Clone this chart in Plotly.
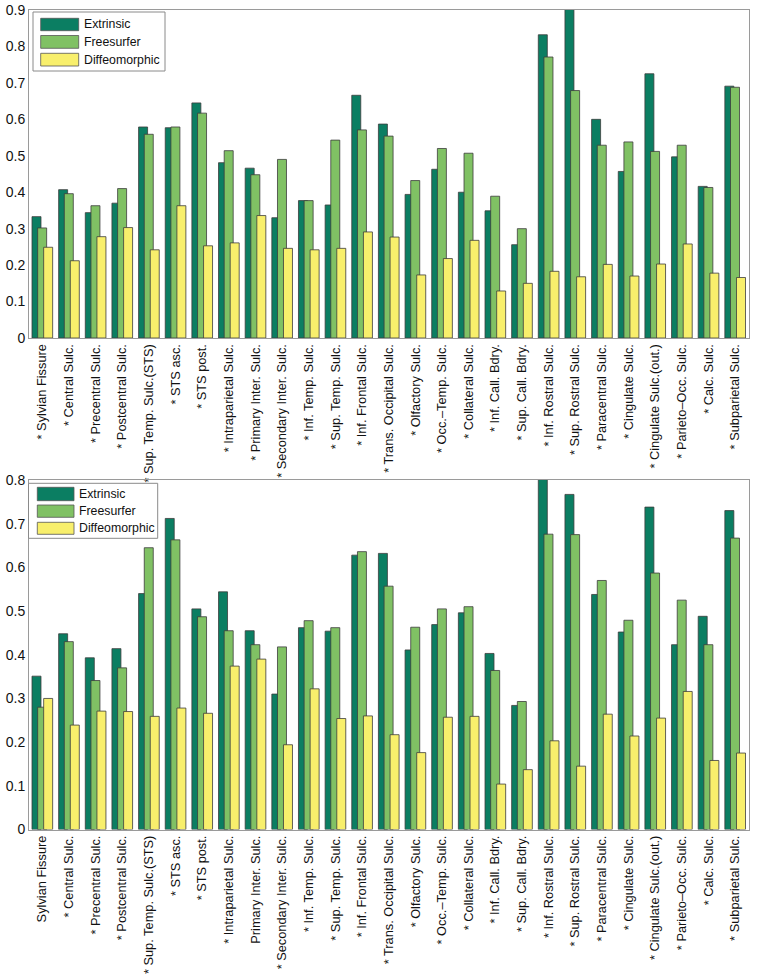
import plotly.graph_objects as go

W, H = 759, 976

labels_top = [
    "* Sylvian Fissure", "* Central Sulc.", "* Precentral Sulc.", "* Postcentral Sulc.",
    "* Sup. Temp. Sulc.(STS)", "* STS asc.", "* STS post.", "* Intraparietal Sulc.",
    "* Primary Inter. Sulc.", "* Secondary Inter. Sulc.", "* Inf. Temp. Sulc.",
    "* Sup. Temp. Sulc.", "* Inf. Frontal Sulc.", "* Trans. Occipital Sulc.",
    "* Olfactory Sulc.", "* Occ.\u2013Temp. Sulc.", "* Collateral Sulc.", "* Inf. Call. Bdry.",
    "* Sup. Call. Bdry.", "* Inf. Rostral Sulc.", "* Sup. Rostral Sulc.",
    "* Paracentral Sulc.", "* Cingulate Sulc.", "* Cingulate Sulc.(out.)",
    "* Parieto\u2013Occ. Sulc.", "* Calc. Sulc.", "* Subparietal Sulc.",
]
labels_bottom = [
    "Sylvian Fissure", "* Central Sulc.", "* Precentral Sulc.", "* Postcentral Sulc.",
    "* Sup. Temp. Sulc.(STS)", "* STS asc.", "* STS post.", "* Intraparietal Sulc.",
    "Primary Inter. Sulc.", "* Secondary Inter. Sulc.", "* Inf. Temp. Sulc.",
    "* Sup. Temp. Sulc.", "* Inf. Frontal Sulc.", "* Trans. Occipital Sulc.",
    "* Olfactory Sulc.", "* Occ.\u2013Temp. Sulc.", "* Collateral Sulc.", "* Inf. Call. Bdry.",
    "* Sup. Call. Bdry.", "* Inf. Rostral Sulc.", "* Sup. Rostral Sulc.",
    "* Paracentral Sulc.", "* Cingulate Sulc.", "* Cingulate Sulc.(out.)",
    "* Parieto\u2013Occ. Sulc.", "* Calc. Sulc.", "* Subparietal Sulc.",
]

series_names = ["Extrinsic", "Freesurfer", "Diffeomorphic"]

top_extrinsic = [0.333, 0.407, 0.344, 0.370, 0.579, 0.577, 0.645, 0.481, 0.466, 0.330,
                 0.377, 0.365, 0.666, 0.587, 0.394, 0.463, 0.400, 0.349, 0.256, 0.832,
                 0.910, 0.600, 0.457, 0.725, 0.497, 0.416, 0.691]
top_freesurfer = [0.302, 0.396, 0.363, 0.410, 0.559, 0.579, 0.617, 0.514, 0.448, 0.490,
                  0.377, 0.543, 0.571, 0.554, 0.432, 0.520, 0.507, 0.389, 0.300, 0.771,
                  0.679, 0.529, 0.538, 0.512, 0.529, 0.413, 0.688]
top_diffeo = [0.249, 0.212, 0.278, 0.303, 0.242, 0.363, 0.253, 0.261, 0.336, 0.246,
              0.242, 0.246, 0.291, 0.277, 0.173, 0.218, 0.268, 0.129, 0.150, 0.183,
              0.168, 0.202, 0.170, 0.203, 0.258, 0.178, 0.166]

bot_extrinsic = [0.351, 0.448, 0.393, 0.414, 0.540, 0.712, 0.505, 0.544, 0.455, 0.310,
                 0.462, 0.454, 0.628, 0.632, 0.411, 0.469, 0.496, 0.403, 0.284, 0.810,
                 0.767, 0.538, 0.452, 0.738, 0.423, 0.488, 0.730]
bot_freesurfer = [0.280, 0.430, 0.341, 0.370, 0.645, 0.663, 0.487, 0.455, 0.423, 0.418,
                  0.478, 0.462, 0.636, 0.557, 0.463, 0.505, 0.510, 0.364, 0.293, 0.676,
                  0.675, 0.570, 0.479, 0.587, 0.525, 0.423, 0.667]
bot_diffeo = [0.300, 0.239, 0.271, 0.270, 0.259, 0.278, 0.266, 0.374, 0.390, 0.194,
              0.322, 0.254, 0.260, 0.217, 0.176, 0.257, 0.259, 0.104, 0.137, 0.203,
              0.145, 0.264, 0.214, 0.255, 0.316, 0.158, 0.175]

yticks_top = [0, 0.1, 0.2, 0.3, 0.4, 0.5, 0.6, 0.7, 0.8, 0.9]
yticks_bot = [0, 0.1, 0.2, 0.3, 0.4, 0.5, 0.6, 0.7, 0.8]

colors = ["#0b7e62", "#80c164", "#f8ef6c"]
offsets = [-0.3875, -0.175, 0.05]
bar_w = 0.3375
FONT = "Liberation Sans, Arial, sans-serif"


def px_x(p):
    return p / W


def px_y(p):
    return 1 - p / H


fig = go.Figure()

top_series = [top_extrinsic, top_freesurfer, top_diffeo]
bot_series = [bot_extrinsic, bot_freesurfer, bot_diffeo]

for i in range(3):
    fig.add_trace(go.Bar(
        x=labels_top, y=top_series[i], name=series_names[i],
        marker=dict(color=colors[i], line=dict(color="#3c3c3c", width=0.8)),
        offset=offsets[i], width=bar_w, xaxis="x", yaxis="y", showlegend=False,
    ))
for i in range(3):
    fig.add_trace(go.Bar(
        x=labels_bottom, y=bot_series[i], name=series_names[i],
        marker=dict(color=colors[i], line=dict(color="#3c3c3c", width=0.8)),
        offset=offsets[i], width=bar_w, xaxis="x2", yaxis="y2", showlegend=False,
    ))

axis_common = dict(
    showline=True, mirror=True, linecolor="#9a9a9a", linewidth=1,
    showgrid=False, zeroline=False, ticks="", automargin=False,
)
xfont = dict(family=FONT, size=12.8, color="#111111")
yfont = dict(family=FONT, size=14, color="#111111")

xdom = [px_x(29), px_x(748.5)]
fig.update_layout(
    width=W, height=H,
    margin=dict(l=0, r=0, t=0, b=0),
    paper_bgcolor="white", plot_bgcolor="white",
    barmode="overlay",
    showlegend=False,
    xaxis=dict(domain=xdom, anchor="y", tickangle=-90, range=[-0.5, 26.5],
               tickfont=xfont, **axis_common),
    yaxis=dict(domain=[px_y(338), px_y(10)], anchor="x", range=[0, 0.9],
               tickvals=yticks_top, ticktext=[f"{v:g}" for v in yticks_top],
               tickfont=yfont, **axis_common),
    xaxis2=dict(domain=xdom, anchor="y2", tickangle=-90, range=[-0.5, 26.5],
                tickfont=xfont, **axis_common),
    yaxis2=dict(domain=[px_y(829.5), px_y(480)], anchor="x2", range=[0, 0.8],
                tickvals=yticks_bot, ticktext=[f"{v:g}" for v in yticks_bot],
                tickfont=yfont, **axis_common),
)


# Legends drawn as MATLAB-style boxes with wide swatches
def add_legend(box, sw_x0, sw_x1, sw_rows, text_x):
    x0, y0, x1, y1 = box
    fig.add_shape(type="rect", xref="paper", yref="paper",
                  x0=px_x(x0), x1=px_x(x1), y0=px_y(y1), y1=px_y(y0),
                  line=dict(color="#8a8a8a", width=1), fillcolor="white", layer="above")
    for i, (ra, rb) in enumerate(sw_rows):
        fig.add_shape(type="rect", xref="paper", yref="paper",
                      x0=px_x(sw_x0), x1=px_x(sw_x1), y0=px_y(rb), y1=px_y(ra),
                      line=dict(color="#555555", width=0.8), fillcolor=colors[i], layer="above")
        fig.add_annotation(xref="paper", yref="paper", x=px_x(text_x), y=px_y((ra + rb) / 2),
                           text=series_names[i], showarrow=False, xanchor="left", yanchor="middle",
                           font=dict(family=FONT, size=12.3, color="#111111"))


add_legend((33, 12, 165, 71), 40.7, 78.7,
           [(18.3, 30.7), (35.5, 48.3), (53.3, 66)], 81.5)
add_legend((28.5, 483.3, 157.7, 538.3), 37.3, 74,
           [(487.3, 500.7), (505, 517.3), (522.3, 534.3)], 76.5)

fig.write_html(
    "out.html",
    config={"displayModeBar": False},
    post_script="document.body.style.margin='0';document.body.style.overflow='hidden';",
)
